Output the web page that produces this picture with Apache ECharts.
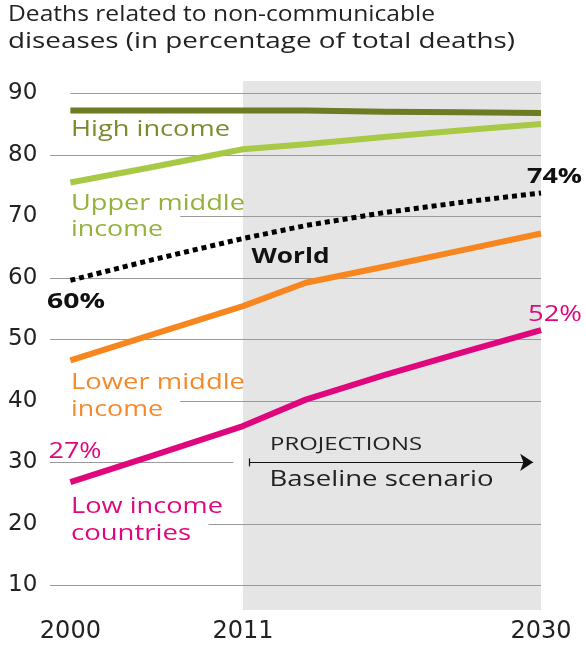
<!DOCTYPE html>
<html>
<head>
<meta charset="utf-8">
<script src="https://cdn.jsdelivr.net/npm/echarts@6/dist/echarts.min.js"></script>
<style>
html,body{margin:0;padding:0;background:#fff;}
#chart{width:586px;height:646px;}
</style>
</head>
<body>
<div id="chart"></div>
<script>
// ---- data ----
const years = [2000, 2005, 2011, 2015, 2020, 2025, 2030];
const highIncome = [87.2, 87.2, 87.2, 87.2, 87.0, 86.9, 86.8];
const upperMiddle = [75.5, 77.9, 80.9, 81.7, 82.9, 84.0, 85.0];
const world = [59.6, 62.8, 66.4, 68.5, 70.6, 72.3, 73.8];
const lowerMiddle = [46.6, 50.6, 55.4, 59.2, 61.8, 64.5, 67.2];
const lowIncome = [26.8, 30.9, 35.9, 40.2, 44.2, 47.9, 51.5];
const yTicks = [10, 20, 30, 40, 50, 60, 70, 80, 90];
const xTicks = [2000, 2011, 2030];
const projectionStart = 2011;
const projectionEnd = 2030;

// ---- layout / style ----
const AXISFONT = 'DejaVu Sans';
const FONT = 'Open Sans';
const gridStart = {10: 1998.7, 20: 2008.8, 30: 1998.7, 40: 2007.0, 50: 1998.7, 60: 1998.7, 70: 2007.0, 80: 1998.7, 90: 2000};
const gridEnd = {30: 2010.4};
const pair = (xs, ys) => xs.map((x, i) => [x, ys[i]]);

const chart = echarts.init(document.getElementById('chart'), null, {renderer: 'canvas'});

function lineSeries(name, vals, color, extra) {
  return Object.assign({
    name, type: 'line', data: pair(years, vals), showSymbol: false, symbol: 'none',
    z: 5, silent: true,
    lineStyle: {color, width: 6, cap: 'butt', join: 'round'}
  }, extra || {});
}

const mctx = document.createElement('canvas').getContext('2d');
// text with horizontal scale chosen so that it spans the given width
function txt(text, x, y, size, color, width, bold) {
  const font = (bold ? 'bold ' : '') + size + 'px "' + FONT + '"';
  mctx.font = font;
  const w = mctx.measureText(text).width;
  return {
    type: 'text', x, y, scaleX: width / w, z: 100, silent: true,
    style: {text, font, fill: color, align: 'left', verticalAlign: 'middle'}
  };
}

const option = {
  animation: false,
  backgroundColor: '#fff',
  grid: {left: 50, right: 45, top: 81, bottom: 36, containLabel: false},
  xAxis: {
    type: 'value', min: 1998.7, max: 2030,
    axisLine: {show: false}, axisTick: {show: false}, splitLine: {show: false},
    axisLabel: {customValues: xTicks, margin: 10, fontFamily: AXISFONT, fontSize: 24, color: '#222',
                formatter: v => String(v)}
  },
  yAxis: {
    type: 'value', min: 6, max: 92,
    axisLine: {show: false}, axisTick: {show: false}, splitLine: {show: false},
    axisLabel: {customValues: yTicks, margin: 42, align: 'left', verticalAlign: 'middle',
                padding: [6, 0, 0, 0], fontFamily: AXISFONT, fontSize: 23, color: '#222'}
  },
  series: [
    {
      type: 'line', data: [], z: 0, silent: true,
      markArea: {silent: true, itemStyle: {color: '#e5e5e5'},
        data: [[{xAxis: projectionStart}, {xAxis: projectionEnd}]]}
    },
    {
      type: 'line', data: [], z: 1, silent: true,
      markLine: {silent: true, symbol: 'none', label: {show: false},
        lineStyle: {color: '#9a9a9a', width: 1, type: 'solid'},
        data: yTicks.map(v => [{coord: [gridStart[v], v]}, {coord: [gridEnd[v] || projectionEnd, v]}])}
    },
    {
      type: 'line', data: [], z: 2, silent: true,
      markLine: {silent: true, label: {show: false},
        lineStyle: {color: '#111', width: 1.2, type: 'solid'},
        data: [
          [{coord: [2011.4, 30], symbol: 'none'}, {coord: [2029.5, 30], symbol: 'arrow', symbolSize: 13}],
          [{coord: [2011.4, 29.35], symbol: 'none'}, {coord: [2011.4, 30.65], symbol: 'none'}]
        ]}
    },
    lineSeries('High income', highIncome, '#6d7b22'),
    lineSeries('Upper middle income', upperMiddle, '#a7c946'),
    lineSeries('Lower middle income', lowerMiddle, '#f7861f'),
    lineSeries('Low income countries', lowIncome, '#e0077d'),
    lineSeries('World', world, '#000', {lineStyle: {color: '#000', width: 5, type: [5, 4], cap: 'butt'}})
  ],
  graphic: [
    txt('Deaths related to non-communicable', 8, 15.5, 21, '#222', 427),
    txt('diseases (in percentage of total deaths)', 8, 41.6, 21, '#222', 507),
    txt('High income', 71, 129.6, 21, '#7a8b2c', 159),
    txt('Upper middle', 71, 204, 21, '#93b23a', 174),
    txt('income', 71, 230.5, 21, '#93b23a', 92),
    txt('World', 251.5, 256.6, 22, '#111', 78, true),
    txt('60%', 47, 302, 21, '#111', 58, true),
    txt('74%', 527, 176.7, 21, '#111', 55, true),
    txt('52%', 528, 314.7, 21, '#e0077d', 54),
    txt('27%', 48.5, 452, 21, '#e0077d', 53),
    txt('Lower middle', 71, 382.6, 21, '#f38a2c', 174),
    txt('income', 71, 410.4, 21, '#f38a2c', 92),
    txt('Low income', 71, 507, 21, '#e0077d', 152),
    txt('countries', 71, 533.6, 21, '#e0077d', 120),
    txt('PROJECTIONS', 270, 445.4, 17.5, '#222', 152),
    txt('Baseline scenario', 269.5, 480, 21, '#222', 224)
  ]
};
chart.setOption(option);
</script>
</body>
</html>
